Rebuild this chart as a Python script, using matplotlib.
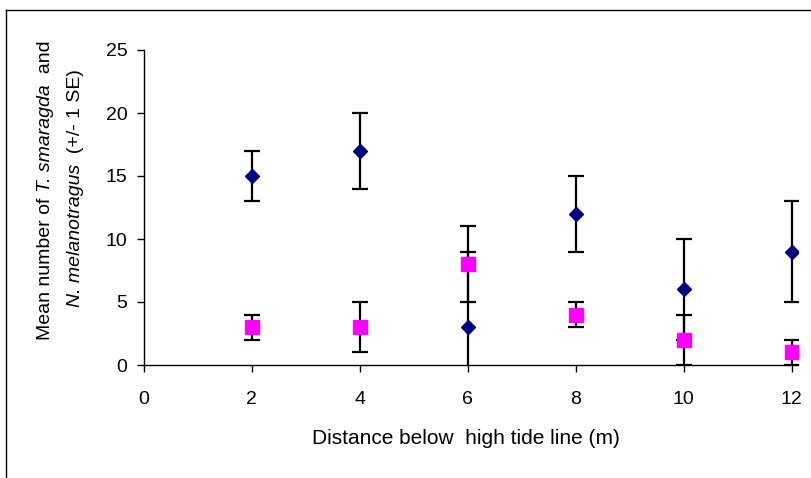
import matplotlib
matplotlib.use("Agg")
import matplotlib.pyplot as plt
from matplotlib.lines import Line2D

plt.rcParams['font.family'] = ['Liberation Sans', 'DejaVu Sans']

distance = [2, 4, 6, 8, 10, 12]
smaragda_mean = [15, 17, 3, 12, 6, 9]
smaragda_se = [2, 3, 6, 3, 4, 4]
melanotragus_mean = [3, 3, 8, 4, 2, 1]
melanotragus_se = [1, 2, 3, 1, 2, 1]
x_ticks = [0, 2, 4, 6, 8, 10, 12]
y_ticks = [0, 5, 10, 15, 20, 25]

ylabel_line1 = [("Mean number of ", "normal"), ("T. smaragda", "italic"), ("  and", "normal")]
ylabel_line2 = [("N. melanotragus", "italic"), ("  (+/- 1 SE)", "normal")]

W, H = 812, 478
fig = plt.figure(figsize=(W / 100, H / 100), dpi=100)
ax = fig.add_axes([144 / W, 1 - 365 / H, (798 - 144) / W, (365 - 50) / H])

ax.errorbar(distance, smaragda_mean, yerr=smaragda_se, fmt='D', color='#000080',
            ms=7, ecolor='black', elinewidth=1.6, capsize=5.8, capthick=1.6, zorder=3)
ax.errorbar(distance, melanotragus_mean, yerr=melanotragus_se, fmt='s', color='#FF00FF',
            ms=10, ecolor='black', elinewidth=1.6, capsize=5.8, capthick=1.6, zorder=4)

ax.set_xlim(0, 12.12)
ax.set_ylim(0, 25)
ax.set_xticks(x_ticks)
ax.set_yticks(y_ticks)
ax.spines['top'].set_visible(False)
ax.spines['right'].set_visible(False)
for s in ['left', 'bottom']:
    ax.spines[s].set_linewidth(1.0)
    ax.spines[s].set_color('black')
ax.tick_params(axis='both', direction='out', length=5, width=1, labelsize=14)
ax.tick_params(axis='x', pad=14)
ax.tick_params(axis='y', pad=7)

fig.text(466 / W, 1 - 439 / H, 'Distance below  high tide line (m)',
         ha='center', va='center', fontsize=15)

renderer = fig.canvas.get_renderer()


def rotated_label(pieces, xc_px, yc_px, size=14):
    # measure each piece
    lengths = []
    for txt, style in pieces:
        t = fig.text(0, 0, txt, rotation=90, fontsize=size, fontstyle=style)
        bb = t.get_window_extent(renderer)
        lengths.append(bb.height)
        t.remove()
    total = sum(lengths)
    y = (H - yc_px) - total / 2  # bottom in display pixels
    for (txt, style), L in zip(pieces, lengths):
        fig.text(xc_px / W, y / H, txt, rotation=90, fontsize=size, fontstyle=style,
                 ha='center', va='bottom')
        y += L


rotated_label(ylabel_line1, 46, 190)
rotated_label(ylabel_line2, 76, 188)

# outer chart border (top and left visible)
fig.add_artist(Line2D([6 / W, 6 / W], [0, 1 - 10 / H], transform=fig.transFigure,
                      color='black', lw=1.0))
fig.add_artist(Line2D([6 / W, 1], [1 - 10 / H, 1 - 10 / H], transform=fig.transFigure,
                      color='black', lw=1.0))

fig.savefig('out.png', dpi=100)
